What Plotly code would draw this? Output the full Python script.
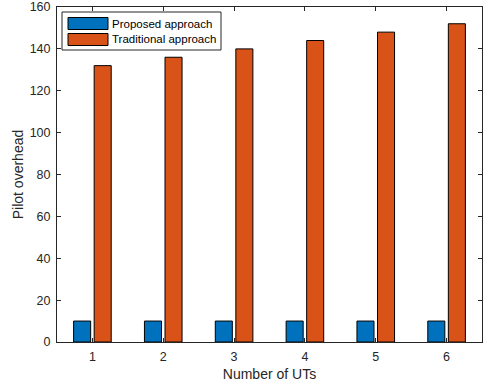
import plotly.graph_objects as go

categories = [1, 2, 3, 4, 5, 6]
proposed = [10, 10, 10, 10, 10, 10]
traditional = [132, 136, 140, 144, 148, 152]
y_ticks = [0, 20, 40, 60, 80, 100, 120, 140, 160]
series_names = ["Proposed approach", "Traditional approach"]
series_colors = ["#0072BD", "#D95319"]

W, H = 484, 388
L, R, T, B = 57, 2, 7, 46
pw, ph = W - L - R, H - T - B

def px(x):
    return (x - L) / pw

def py(y):
    return (H - B - y) / ph

fig = go.Figure()
for name, vals, col in zip(series_names, [proposed, traditional], series_colors):
    fig.add_trace(go.Bar(x=categories, y=vals, name=name, showlegend=False,
                         marker=dict(color=col, line=dict(color="#000000", width=1))))

axis_color = "#262626"
shapes = [dict(type="rect", xref="paper", yref="paper",
               x0=px(62), x1=px(221), y0=py(50), y1=py(12),
               line=dict(color=axis_color, width=1), fillcolor="white", layer="above")]
annotations = []
rows = [(17.5, 29.5), (33.5, 45.5)]
for (y0, y1), name, col in zip(rows, series_names, series_colors):
    shapes.append(dict(type="rect", xref="paper", yref="paper",
                       x0=px(68), x1=px(108), y0=py(y1), y1=py(y0),
                       line=dict(color="#000000", width=1), fillcolor=col, layer="above"))
    annotations.append(dict(xref="paper", yref="paper", x=px(110), y=py((y0 + y1) / 2),
                            xanchor="left", yanchor="middle", text=name, showarrow=False,
                            font=dict(size=11.5, color="#000000")))

fig.update_layout(
    width=W, height=H,
    margin=dict(l=L, r=R, t=T, b=B),
    paper_bgcolor="white", plot_bgcolor="white",
    barmode="group", bargap=0.42, bargroupgap=0.17,
    font=dict(family="Liberation Sans, Arial, sans-serif", size=12, color=axis_color),
    shapes=shapes, annotations=annotations,
    showlegend=False,
)
fig.update_xaxes(
    range=[0.5, 6.5], tickvals=categories, ticktext=[str(c) for c in categories],
    showline=True, linecolor=axis_color, linewidth=1, mirror="allticks",
    ticks="inside", ticklen=4, tickcolor=axis_color, showgrid=False, zeroline=False,
    title=dict(text="Number of UTs", font=dict(size=14), standoff=6),
    tickfont=dict(size=12.5), automargin=False, ticklabelstandoff=3,
)
fig.update_yaxes(
    range=[0, 160], tickvals=y_ticks,
    showline=True, linecolor=axis_color, linewidth=1, mirror="allticks",
    ticks="inside", ticklen=4, tickcolor=axis_color, showgrid=False, zeroline=False,
    title=dict(text="Pilot overhead", font=dict(size=14), standoff=2),
    tickfont=dict(size=12.5), automargin=False, ticklabelstandoff=3,
)
post = ("document.body.style.margin='0';document.body.style.overflow='hidden';"
        "var gd=document.getElementById('{plot_id}');"
        "Plotly.relayout(gd,{width:%d,height:%d});" % (W, H))
fig.write_html("out.html", post_script=post,
               config={"responsive": False, "displayModeBar": False})
